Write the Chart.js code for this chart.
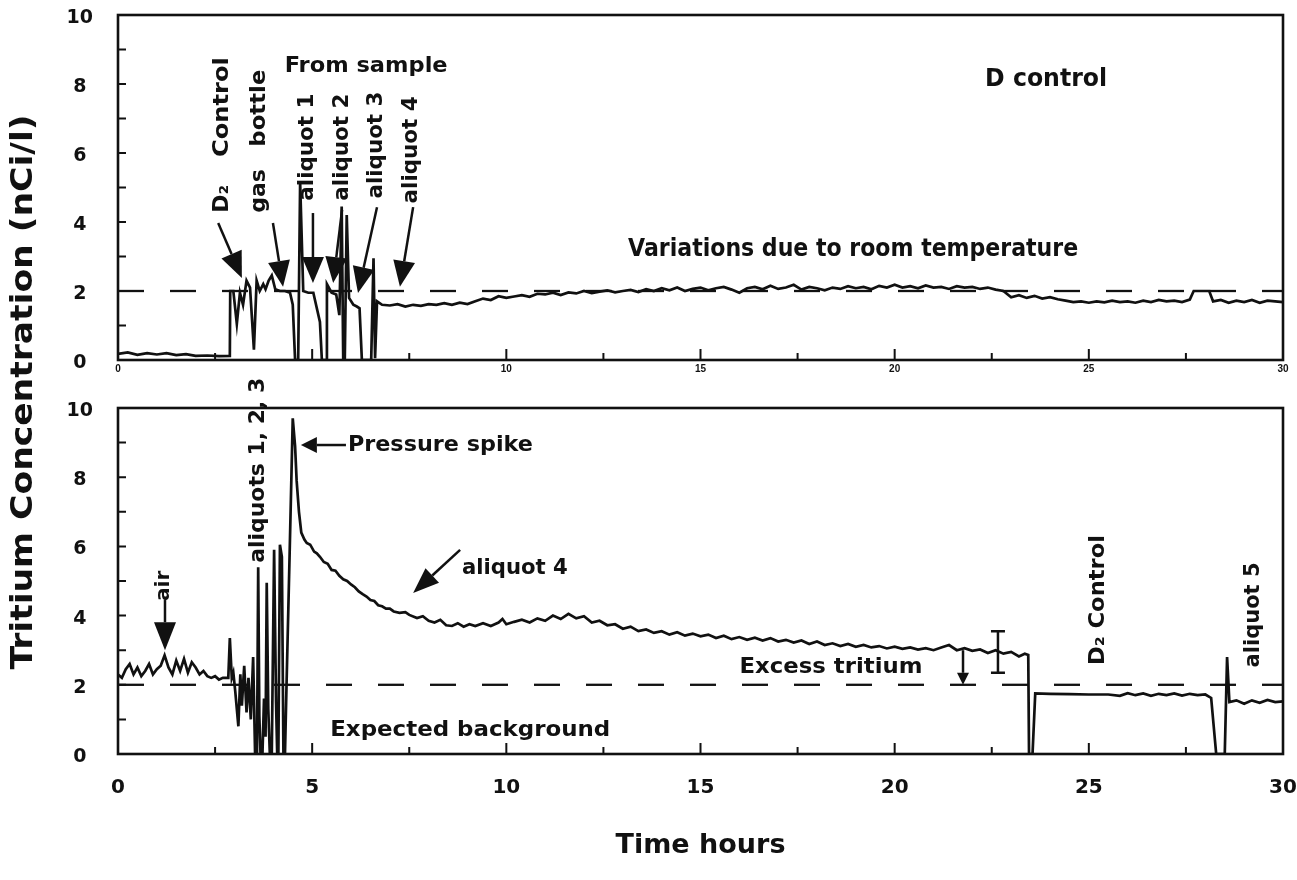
<!DOCTYPE html>
<html>
<head>
<meta charset="utf-8">
<script src="https://cdn.jsdelivr.net/npm/chart.js@4.4.1/dist/chart.umd.min.js"></script>
<style>
  body { margin: 0; background: #fff; }
  #wrap { position: relative; width: 1297px; height: 880px; }
  canvas { position: absolute; left: 0; top: 0; }
</style>
</head>
<body>
<div id="wrap">
  <canvas id="bottomPanel" width="1297" height="880"></canvas>
  <canvas id="topPanel" width="1297" height="380"></canvas>
</div>
<script>
// ---- data (hours, nCi/l) ----
var topHours = [0, 0.25, 0.5, 0.75, 1.0, 1.25, 1.5, 1.75, 2.0, 2.3, 2.6, 2.88,
  2.89, 2.97, 3.06, 3.14, 3.22, 3.31, 3.4, 3.5, 3.57, 3.65, 3.74, 3.8, 3.88, 3.96, 4.05, 4.17, 4.3, 4.43, 4.5,
  4.56, 4.64, 4.69, 4.77, 4.9, 5.03, 5.2, 5.25, 5.37, 5.38, 5.5, 5.62, 5.7, 5.76, 5.8, 5.84, 5.89, 5.95,
  6.06, 6.15, 6.22, 6.28, 6.52, 6.58, 6.62, 6.67,
  6.8, 7.0, 7.2, 7.4, 7.6, 7.8, 8.0, 8.2, 8.4, 8.6, 8.8, 9.0, 9.2, 9.4, 9.6, 9.8,
  10.0, 10.2, 10.4, 10.6, 10.8, 11.0, 11.2, 11.4, 11.6, 11.8, 12.0, 12.2, 12.4, 12.6, 12.8,
  13.0, 13.2, 13.4, 13.6, 13.8, 14.0, 14.2, 14.4, 14.6, 14.8, 15.0, 15.2, 15.4, 15.6, 15.8,
  16.0, 16.2, 16.4, 16.6, 16.8, 17.0, 17.2, 17.4, 17.6, 17.8, 18.0, 18.2, 18.4, 18.6, 18.8,
  19.0, 19.2, 19.4, 19.6, 19.8, 20.0, 20.2, 20.4, 20.6, 20.8, 21.0, 21.2, 21.4, 21.6, 21.8,
  22.0, 22.2, 22.4, 22.6, 22.8, 23.0, 23.2, 23.4, 23.6, 23.8, 24.0, 24.2, 24.4, 24.6, 24.8,
  25.0, 25.2, 25.4, 25.6, 25.8, 26.0, 26.2, 26.4, 26.6, 26.8, 27.0, 27.2, 27.4, 27.6, 27.7,
  28.1, 28.2, 28.4, 28.6, 28.8, 29.0, 29.2, 29.4, 29.6, 29.8, 30.0];
var topConc = [0.18, 0.22, 0.15, 0.2, 0.16, 0.2, 0.14, 0.17, 0.12, 0.13, 0.11, 0.12,
  2.0, 2.0, 1.05, 1.95, 1.6, 2.3, 2.1, 0.3, 2.3, 2.0, 2.2, 2.05, 2.3, 2.45, 2.05, 2.0, 2.0, 1.95, 1.6,
  0, 0, 5.15, 2.0, 1.95, 1.95, 1.1, 0, 0, 2.2, 1.95, 1.9, 1.3, 4.45, 0, 0, 4.2, 1.8,
  1.6, 1.55, 1.5, 0, 0, 2.95, 0.05, 1.7,
  1.6, 1.58, 1.62, 1.55, 1.6, 1.57, 1.62, 1.6, 1.65, 1.6, 1.66, 1.62, 1.7, 1.78, 1.74, 1.85,
  1.8, 1.84, 1.88, 1.83, 1.92, 1.9, 1.95, 1.88, 1.96, 1.93, 2.0, 1.94, 1.98, 2.02, 1.96,
  2.0, 2.03, 1.97, 2.05, 2.0, 2.08, 2.02, 2.1, 2.0, 2.06, 2.1, 2.02, 2.08, 2.12, 2.04,
  1.95, 2.08, 2.12, 2.05, 2.15, 2.06, 2.1, 2.18, 2.04, 2.12, 2.08, 2.02, 2.1, 2.06, 2.14,
  2.08, 2.12, 2.05, 2.15, 2.1, 2.18, 2.1, 2.14, 2.08, 2.16, 2.1, 2.12, 2.06, 2.14, 2.1,
  2.12, 2.06, 2.1, 2.04, 2.0, 1.82, 1.88, 1.8, 1.86, 1.78, 1.82, 1.76, 1.72, 1.68, 1.7,
  1.66, 1.7, 1.67, 1.72, 1.68, 1.7, 1.66, 1.72, 1.68, 1.74, 1.7, 1.72, 1.68, 1.75, 2.0,
  2.0, 1.7, 1.74, 1.66, 1.72, 1.68, 1.74, 1.66, 1.72, 1.7, 1.68];

var botHours = [0, 0.1, 0.2, 0.3, 0.4, 0.5, 0.6, 0.7, 0.8, 0.9, 1.0, 1.1, 1.2, 1.3, 1.4, 1.5, 1.6, 1.7, 1.8, 1.9,
  2.0, 2.1, 2.2, 2.3, 2.4, 2.5, 2.6, 2.7, 2.8, 2.84, 2.88, 2.93, 2.97, 3.02, 3.1, 3.15, 3.19, 3.25, 3.31, 3.36,
  3.42, 3.48, 3.53, 3.58, 3.61, 3.64, 3.67, 3.72, 3.76, 3.8, 3.83, 3.87, 3.91, 3.96, 4.02, 4.07, 4.1, 4.13,
  4.17, 4.22, 4.26, 4.3, 4.34, 4.42, 4.5, 4.56, 4.6, 4.66, 4.72, 4.8, 4.86, 4.95, 5.05, 5.12, 5.2, 5.3, 5.4,
  5.5, 5.6, 5.7, 5.8, 5.9, 6.0, 6.1, 6.2, 6.3, 6.4, 6.5, 6.6, 6.7, 6.8, 6.9, 7.0, 7.1, 7.25, 7.4, 7.5, 7.7,
  7.85, 8.0, 8.15, 8.3, 8.45, 8.6, 8.75, 8.9, 9.05, 9.2, 9.4, 9.6, 9.8, 9.9,
  10.0, 10.2, 10.4, 10.6, 10.8, 11.0, 11.2, 11.4, 11.6, 11.8, 12.0, 12.2, 12.4, 12.6, 12.8,
  13.0, 13.2, 13.4, 13.6, 13.8, 14.0, 14.2, 14.4, 14.6, 14.8, 15.0, 15.2, 15.4, 15.6, 15.8,
  16.0, 16.2, 16.4, 16.6, 16.8, 17.0, 17.2, 17.4, 17.6, 17.8, 18.0, 18.2, 18.4, 18.6, 18.8,
  19.0, 19.2, 19.4, 19.6, 19.8, 20.0, 20.2, 20.4, 20.6, 20.8, 21.0, 21.2, 21.4, 21.6, 21.8,
  22.0, 22.2, 22.4, 22.6, 22.8, 23.0, 23.2, 23.35, 23.44, 23.46, 23.55, 23.62,
  24.0, 24.5, 25.0, 25.5, 25.8, 26.0, 26.2, 26.4, 26.6, 26.8, 27.0, 27.2, 27.4, 27.6, 27.8, 28.0,
  28.15, 28.28, 28.5, 28.56, 28.62, 28.8, 29.0, 29.2, 29.4, 29.6, 29.8, 30.0];
var botConc = [2.3, 2.2, 2.45, 2.6, 2.3, 2.5, 2.25, 2.4, 2.6, 2.3, 2.45, 2.55, 2.85, 2.5, 2.3, 2.7, 2.4, 2.75, 2.35, 2.65,
  2.5, 2.3, 2.4, 2.25, 2.2, 2.25, 2.15, 2.2, 2.2, 2.2, 3.35, 2.2, 2.35, 1.8, 0.8, 2.3, 1.4, 2.55, 1.2, 2.2,
  1.0, 2.8, 0, 0, 5.4, 1.1, 0, 0, 1.6, 0.5, 4.95, 1.3, 0, 0, 5.9, 1.5, 0, 0,
  6.05, 5.7, 0, 0, 2.0, 5.8, 9.7, 8.9, 7.9, 7.0, 6.4, 6.2, 6.1, 6.05, 5.85, 5.8, 5.7, 5.55, 5.5,
  5.32, 5.3, 5.15, 5.05, 5.0, 4.9, 4.82, 4.7, 4.62, 4.55, 4.45, 4.42, 4.3, 4.27, 4.2, 4.2, 4.12, 4.08, 4.1, 4.02, 3.93,
  3.98, 3.85, 3.8, 3.88, 3.72, 3.7, 3.78, 3.68, 3.75, 3.7, 3.78, 3.7, 3.8, 3.9,
  3.75, 3.82, 3.88, 3.8, 3.92, 3.85, 4.0, 3.9, 4.05, 3.92, 3.98, 3.8, 3.85, 3.72, 3.75,
  3.62, 3.68, 3.55, 3.6, 3.5, 3.55, 3.45, 3.52, 3.42, 3.48, 3.4, 3.45, 3.35, 3.42, 3.32,
  3.38, 3.3, 3.36, 3.28, 3.35, 3.25, 3.3, 3.22, 3.28, 3.18, 3.25, 3.15, 3.2, 3.12, 3.18,
  3.1, 3.15, 3.08, 3.12, 3.05, 3.1, 3.04, 3.08, 3.02, 3.06, 3.0, 3.08, 3.15, 3.0, 3.06,
  2.98, 3.02, 2.92, 3.0, 2.9, 2.95, 2.82, 2.9, 2.86, 0, 0, 1.75,
  1.74, 1.73, 1.72, 1.72, 1.68, 1.76, 1.7, 1.75, 1.68, 1.74, 1.7, 1.75, 1.69, 1.74, 1.7, 1.72,
  1.62, 0, 0, 2.8, 1.5, 1.55, 1.45, 1.55, 1.48, 1.56, 1.5, 1.52];

var refHours = [0, 30];      // expected background level
var refConc = [2, 2];
var yTickValues = [0, 2, 4, 6, 8, 10];
var xTickValues = [0, 5, 10, 15, 20, 25, 30];

// annotations (data coordinates)
var topNotes = [
  { text: 'D\u2082', x: 2.68, y: 4.67, size: 22, rot: true },
  { text: 'Control', x: 2.68, y: 7.33, size: 22, rot: true, w: 100 },
  { text: 'gas', x: 3.63, y: 4.9, size: 22, rot: true },
  { text: 'bottle', x: 3.63, y: 7.3, size: 22, rot: true, w: 77 },
  { text: 'From sample', x: 6.39, y: 8.52, size: 21, w: 163 },
  { text: 'aliquot 1', x: 4.89, y: 6.17, size: 21, rot: true, w: 107 },
  { text: 'aliquot 2', x: 5.79, y: 6.17, size: 21, rot: true, w: 107 },
  { text: 'aliquot 3', x: 6.67, y: 6.23, size: 21, rot: true, w: 107 },
  { text: 'aliquot 4', x: 7.57, y: 6.09, size: 21, rot: true, w: 107 },
  { text: 'D control', x: 23.9, y: 8.12, size: 24, w: 122 },
  { text: 'Variations due to room temperature', x: 18.93, y: 3.19, size: 24, w: 450 }
];
var topArrows = [
  { from: [2.58, 3.97], to: [3.19, 2.38], head: 26, half: 11 },
  { from: [3.99, 3.97], to: [4.25, 2.12], head: 26, half: 11 },
  { from: [5.02, 4.26], to: [5.02, 2.23], head: 26, half: 11 },
  { from: [5.77, 4.35], to: [5.54, 2.23], head: 26, half: 11 },
  { from: [6.67, 4.43], to: [6.18, 1.94], head: 26, half: 11 },
  { from: [7.6, 4.43], to: [7.26, 2.12], head: 26, half: 11 }
];
var botNotes = [
  { text: 'air', x: 1.18, y: 4.86, size: 20, rot: true },
  { text: 'aliquots 1, 2, 3', x: 3.6, y: 8.2, size: 22, rot: true, w: 185 },
  { text: 'Pressure spike', x: 5.92, y: 8.93, size: 22, w: 185, align: 'left' },
  { text: 'aliquot 4', x: 10.22, y: 5.38, size: 22, w: 106 },
  { text: 'Excess tritium', x: 18.36, y: 2.51, size: 22, w: 183 },
  { text: 'Expected background', x: 9.07, y: 0.69, size: 22, w: 280 },
  { text: 'D\u2082 Control', x: 25.24, y: 4.45, size: 21, rot: true, w: 130 },
  { text: 'aliquot 5', x: 29.23, y: 4.02, size: 21, rot: true, w: 105 }
];
var botArrows = [
  { from: [1.21, 4.45], to: [1.21, 3.0], head: 28, half: 11 },
  { from: [5.87, 8.93], to: [4.71, 8.93], head: 16, half: 8 },
  { from: [8.81, 5.9], to: [7.6, 4.65], head: 26, half: 10 },
  { from: [21.76, 3.0], to: [21.76, 2.0], head: 12, half: 6 }
];
var botErrorBar = { x: 22.66, lo: 2.35, hi: 3.55 };

var FONT = '"DejaVu Sans", "Liberation Sans", sans-serif';

function pts(xs, ys) {
  return xs.map(function (h, i) { return { x: h, y: ys[i] }; });
}

function drawNote(ctx, n, xs, ys) {
  var px = xs.getPixelForValue(n.x), py = ys.getPixelForValue(n.y);
  ctx.save();
  ctx.translate(px, py);
  if (n.rot) ctx.rotate(-Math.PI / 2);
  ctx.font = 'bold ' + n.size + 'px ' + FONT;
  ctx.fillStyle = '#111';
  ctx.textAlign = n.align || 'center';
  ctx.textBaseline = 'middle';
  if (n.w) {
    var m = ctx.measureText(n.text).width;
    ctx.scale(n.w / m, 1);
  }
  ctx.fillText(n.text, 0, 0);
  ctx.restore();
}

function drawArrow(ctx, a, xs, ys) {
  var x1 = xs.getPixelForValue(a.from[0]), y1 = ys.getPixelForValue(a.from[1]);
  var x2 = xs.getPixelForValue(a.to[0]), y2 = ys.getPixelForValue(a.to[1]);
  var ang = Math.atan2(y2 - y1, x2 - x1);
  var bx = x2 - a.head * Math.cos(ang), by = y2 - a.head * Math.sin(ang);
  ctx.save();
  ctx.strokeStyle = '#111';
  ctx.fillStyle = '#111';
  ctx.lineWidth = 2.5;
  ctx.beginPath();
  ctx.moveTo(x1, y1);
  ctx.lineTo(bx, by);
  ctx.stroke();
  ctx.beginPath();
  ctx.moveTo(x2, y2);
  ctx.lineTo(bx + a.half * Math.sin(ang), by - a.half * Math.cos(ang));
  ctx.lineTo(bx - a.half * Math.sin(ang), by + a.half * Math.cos(ang));
  ctx.closePath();
  ctx.fill();
  ctx.restore();
}

function panelPlugin(notes, arrows, isBottom) {
  return {
    id: 'panel',
    afterDraw: function (chart) {
      var ctx = chart.ctx, a = chart.chartArea;
      var xs = chart.scales.x, ys = chart.scales.y;
      ctx.save();
      ctx.strokeStyle = '#111';
      ctx.lineWidth = 2.6;
      ctx.strokeRect(a.left, a.top, a.right - a.left, a.bottom - a.top);
      // inward tick marks
      ctx.lineWidth = 2;
      ctx.beginPath();
      for (var v = 0; v <= 10; v++) {
        var py = ys.getPixelForValue(v);
        ctx.moveTo(a.left, py);
        ctx.lineTo(a.left + 8, py);
      }
      for (var h = 0; h <= 30; h += 2.5) {
        var px = xs.getPixelForValue(h);
        ctx.moveTo(px, a.bottom);
        ctx.lineTo(px, a.bottom - (h % 5 === 0 ? 11 : 7));
      }
      ctx.stroke();
      ctx.restore();

      notes.forEach(function (n) { drawNote(ctx, n, xs, ys); });
      arrows.forEach(function (ar) { drawArrow(ctx, ar, xs, ys); });

      if (isBottom) {
        var ex = xs.getPixelForValue(botErrorBar.x);
        var ylo = ys.getPixelForValue(botErrorBar.lo), yhi = ys.getPixelForValue(botErrorBar.hi);
        ctx.save();
        ctx.strokeStyle = '#111';
        ctx.lineWidth = 2.5;
        ctx.beginPath();
        ctx.moveTo(ex, ylo); ctx.lineTo(ex, yhi);
        ctx.moveTo(ex - 7, ylo); ctx.lineTo(ex + 7, ylo);
        ctx.moveTo(ex - 7, yhi); ctx.lineTo(ex + 7, yhi);
        ctx.stroke();
        // shared y-axis title
        ctx.translate(24, 392);
        ctx.rotate(-Math.PI / 2);
        ctx.font = 'bold 31px ' + FONT;
        ctx.fillStyle = '#111';
        ctx.textAlign = 'center';
        ctx.textBaseline = 'middle';
        var t = 'Tritium Concentration (nCi/l)';
        ctx.scale(555 / ctx.measureText(t).width, 1);
        ctx.fillText(t, 0, 0);
        ctx.restore();
      }
    }
  };
}

function makeOptions(isBottom) {
  return {
    responsive: false,
    animation: false,
    devicePixelRatio: 1,
    layout: { padding: { top: isBottom ? 408 : 15, right: 14, left: 0, bottom: 0 } },
    plugins: { legend: { display: false }, tooltip: { enabled: false } },
    scales: {
      x: {
        type: 'linear', min: 0, max: 30,
        // gap below the axis comes from tickLength (ticks themselves are drawn by the plugin)
        grid: { display: false, drawTicks: true, tickLength: isBottom ? 22 : 3 },
        border: { display: false },
        afterBuildTicks: function (s) { s.ticks = xTickValues.map(function (v) { return { value: v }; }); },
        ticks: {
          padding: 0,
          maxRotation: 0,
          color: '#111',
          font: isBottom ? { family: FONT, size: 20, weight: 'bold' } : { family: '"Liberation Sans", sans-serif', size: 10, weight: 'bold' },
          callback: function (v) { return (!isBottom && v === 5) ? '' : v; }
        },
        title: isBottom ? {
          display: true, text: 'Time hours', color: '#111',
          font: { family: FONT, size: 27, weight: 'bold' },
          padding: { top: 0, bottom: 18 }
        } : { display: false },
        afterFit: function (s) { s.height = isBottom ? 126 : 20; }
      },
      y: {
        min: 0, max: 10,
        grid: { display: false, drawTicks: true, tickLength: 25 },
        border: { display: false },
        afterBuildTicks: function (s) { s.ticks = yTickValues.map(function (v) { return { value: v }; }); },
        ticks: {
          padding: 0, crossAlign: 'center', labelOffset: 3, color: '#111',
          font: { family: FONT, size: 19, weight: 'bold' }
        },
        afterFit: function (s) { s.width = 118; }
      }
    }
  };
}

function makeDatasets(xs, ys) {
  return [
    { data: pts(xs, ys), borderColor: '#111', borderWidth: 2.7, pointRadius: 0, tension: 0, fill: false },
    { data: pts(refHours, refConc), borderColor: '#111', borderWidth: 2.3, borderDash: [26, 26], pointRadius: 0, fill: false }
  ];
}

var bottomChart = new Chart(document.getElementById('bottomPanel'), {
  type: 'line',
  data: { datasets: makeDatasets(botHours, botConc) },
  options: makeOptions(true),
  plugins: [panelPlugin(botNotes, botArrows, true)]
});

var topChart = new Chart(document.getElementById('topPanel'), {
  type: 'line',
  data: { datasets: makeDatasets(topHours, topConc) },
  options: makeOptions(false),
  plugins: [panelPlugin(topNotes, topArrows, false)]
});
</script>
</body>
</html>
